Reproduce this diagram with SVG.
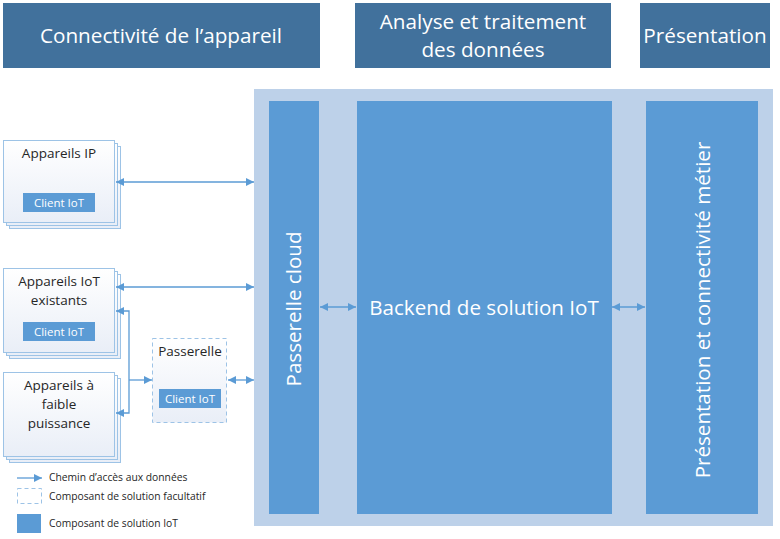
<svg xmlns="http://www.w3.org/2000/svg" width="780" height="539" viewBox="0 0 780 539">
<defs>
<linearGradient id="dev" x1="0" y1="0" x2="0" y2="1">
<stop offset="0" stop-color="#ffffff"/>
<stop offset="1" stop-color="#e9eef7"/>
</linearGradient>
<marker id="ah" viewBox="0 0 10 10" refX="10" refY="5" markerWidth="8" markerHeight="8" markerUnits="userSpaceOnUse" orient="auto-start-reverse">
<path d="M0,0 L10,5 L0,10 z" fill="#5b9bd5"/>
</marker>
<style>
.hdr{fill:#41719c}
.ht{font-family:"Open Sans","Noto Sans",sans-serif;font-size:20.7px;fill:#ffffff;text-anchor:middle}
.col{fill:#5b9bd5}
.ct{font-family:"Open Sans","Noto Sans",sans-serif;font-size:20.6px;fill:#ffffff;text-anchor:middle}
.dev{fill:url(#dev);stroke:#9dc3e6;stroke-width:1}
.dt{font-family:"Open Sans","Noto Sans",sans-serif;font-size:13.5px;fill:#262626;text-anchor:middle}
.cl{fill:#5b9bd5}
.clt{font-family:"Open Sans","Noto Sans",sans-serif;font-size:11.5px;fill:#ffffff;text-anchor:middle}
.lt{font-family:"Open Sans","Noto Sans",sans-serif;font-size:10.3px;fill:#262626}
.ln{fill:none;stroke:#5b9bd5;stroke-width:1.3}
</style>
</defs>
<rect width="780" height="539" fill="#ffffff"/>

<g id="header-connectivite">
<rect class="hdr" x="3" y="3" width="317" height="65"/>
<text class="ht" x="161" y="43">Connectivité de l’appareil</text>
</g>
<g id="header-analyse">
<rect class="hdr" x="355" y="3" width="256" height="65"/>
<text class="ht" x="483" y="29">Analyse et traitement</text>
<text class="ht" x="483" y="57">des données</text>
</g>
<g id="header-presentation">
<rect class="hdr" x="640" y="3" width="130" height="65"/>
<text class="ht" x="705" y="43">Présentation</text>
</g>

<g id="solution-bg">
<rect x="254" y="89" width="519" height="437" fill="#bdd1e9"/>
</g>
<g id="passerelle-cloud">
<rect class="col" x="269" y="101" width="50" height="413"/>
<text class="ct" transform="translate(301,309) rotate(-90)">Passerelle cloud</text>
</g>
<g id="backend">
<rect class="col" x="357" y="101" width="255" height="413"/>
<text class="ct" x="484" y="315">Backend de solution IoT</text>
</g>
<g id="presentation-metier">
<rect class="col" x="646" y="101" width="112" height="413"/>
<text class="ct" transform="translate(710,310) rotate(-90)">Présentation et connectivité métier</text>
</g>

<g id="appareils-ip">
<rect class="dev" x="9.5" y="146.5" width="111" height="82"/>
<rect class="dev" x="6.5" y="143.5" width="111" height="82"/>
<rect class="dev" x="3.5" y="140.5" width="111" height="82"/>
<text class="dt" x="59" y="158">Appareils IP</text>
<rect class="cl" x="23" y="193" width="72" height="19"/>
<text class="clt" x="59" y="207">Client IoT</text>
</g>

<g id="appareils-iot-existants">
<rect class="dev" x="9.5" y="274.5" width="111" height="84"/>
<rect class="dev" x="6.5" y="271.5" width="111" height="84"/>
<rect class="dev" x="3.5" y="268.5" width="111" height="84"/>
<text class="dt" x="59" y="286">Appareils IoT</text>
<text class="dt" x="59" y="305">existants</text>
<rect class="cl" x="23" y="322" width="72" height="19"/>
<text class="clt" x="59" y="336">Client IoT</text>
</g>

<g id="appareils-faible-puissance">
<rect class="dev" x="9.5" y="378.5" width="111" height="84"/>
<rect class="dev" x="6.5" y="375.5" width="111" height="84"/>
<rect class="dev" x="3.5" y="372.5" width="111" height="84"/>
<text class="dt" x="59" y="390">Appareils à</text>
<text class="dt" x="59" y="409">faible</text>
<text class="dt" x="59" y="428">puissance</text>
</g>

<g id="passerelle">
<rect class="dev" x="152.5" y="338.5" width="74" height="84" stroke-dasharray="4,3"/>
<text class="dt" x="190" y="356">Passerelle</text>
<rect class="cl" x="159" y="389" width="62" height="19"/>
<text class="clt" x="190" y="403">Client IoT</text>
</g>

<g id="connectors">
<line class="ln" x1="116" y1="182" x2="254" y2="182" marker-start="url(#ah)" marker-end="url(#ah)"/>
<line class="ln" x1="116" y1="287" x2="254" y2="287" marker-start="url(#ah)" marker-end="url(#ah)"/>
<polyline class="ln" points="116,311 129,311 129,413 116,413" marker-start="url(#ah)" marker-end="url(#ah)"/>
<line class="ln" x1="129" y1="380" x2="152" y2="380" marker-end="url(#ah)"/>
<line class="ln" x1="228" y1="380" x2="254" y2="380" marker-start="url(#ah)" marker-end="url(#ah)"/>
<line class="ln" x1="320" y1="307" x2="356" y2="307" marker-start="url(#ah)" marker-end="url(#ah)"/>
<line class="ln" x1="612" y1="307" x2="645" y2="307" marker-start="url(#ah)" marker-end="url(#ah)"/>
</g>

<g id="legend">
<line class="ln" x1="17" y1="478" x2="42" y2="478" marker-end="url(#ah)"/>
<text class="lt" x="49" y="481">Chemin d’accès aux données</text>
<rect x="17.5" y="488.5" width="24" height="15" fill="#ffffff" stroke="#9dc3e6" stroke-dasharray="4,3"/>
<text class="lt" x="49" y="500">Composant de solution facultatif</text>
<rect x="17" y="514" width="24" height="19" fill="#5b9bd5"/>
<text class="lt" x="49" y="527">Composant de solution IoT</text>
</g>
</svg>
